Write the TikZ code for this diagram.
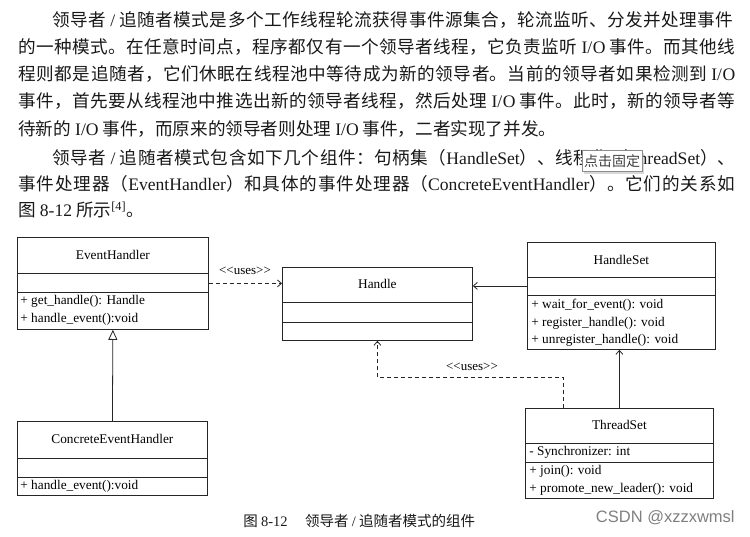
\documentclass[tikz,border=0pt]{standalone}
\usepackage{fontspec}
\setmainfont{Liberation Serif}
\newfontfamily\cjk{Noto Sans CJK SC}
\newfontfamily\wmfont{Liberation Sans}
\usepackage{tikz}
\usetikzlibrary{arrows.meta,shadows}
\XeTeXlinebreaklocale "zh"
\XeTeXlinebreakskip=0pt plus 4pt

\begin{document}
\begin{tikzpicture}[x=1pt, y=-1pt, line width=0.8pt,
    bookline/.style={anchor=west, inner sep=0pt, text width=#1, align=justify,
        font=\cjk\fontsize{17.6}{20}\selectfont, text=black!90,
        execute at begin node={\parfillskip=0pt\tolerance=10000\relax}},
    booklast/.style={anchor=west, inner sep=0pt, font=\cjk\fontsize{17.6}{20}\selectfont, text=black!90},
    umlbox/.style={draw=black!85, rectangle, anchor=north west, inner sep=0pt},
    cname/.style={inner sep=0pt, font=\fontsize{13.3}{15}\selectfont},
    member/.style={anchor=west, inner sep=0pt, font=\fontsize{13.3}{15}\selectfont},
    lbl/.style={inner sep=0pt, font=\fontsize{13}{15}\selectfont},
    uses/.style={draw=black!85, dash pattern=on 4pt off 3pt, -{Straight Barb[length=4pt,width=7pt]}},
    assoc/.style={draw=black!85, -{Straight Barb[length=4pt,width=7pt]}},
    inherit/.style={draw=black!85, -{Triangle[open,length=10pt,width=9pt]}}]

\fill[white] (0,0) rectangle (750,536);
\useasboundingbox (0,0) rectangle (750,536);

\node[bookline=681pt] (l1) at (52,20) {领导者 {\rmfamily /} 追随者模式是多个工作线程轮流获得事件源集合，轮流监听、分发并处理事件};
\node[bookline=717pt] (l2) at (18,47) {的一种模式。在任意时间点，程序都仅有一个领导者线程，它负责监听 {\rmfamily I/O} 事件。而其他线};
\node[bookline=717pt] (l3) at (18,74) {程则都是追随者，它们休眠在线程池中等待成为新的领导者。当前的领导者如果检测到 {\rmfamily I/O}};
\node[bookline=717pt] (l4) at (18,101) {事件，首先要从线程池中推选出新的领导者线程，然后处理 {\rmfamily I/O} 事件。此时，新的领导者等};
\node[booklast] (l5) at (18,129) {待新的 {\rmfamily I/O} 事件，而原来的领导者则处理 {\rmfamily I/O} 事件，二者实现了并发。};
\node[bookline=683pt] (l6) at (52,158) {领导者 {\rmfamily /} 追随者模式包含如下几个组件：句柄集（{\rmfamily HandleSet}）、线程集（{\rmfamily ThreadSet}）、};
\node[bookline=717pt] (l7) at (18,184) {事件处理器（{\rmfamily EventHandler}）和具体的事件处理器（{\rmfamily ConcreteEventHandler}）。它们的关系如};
\node[booklast] (l8) at (18,210) {图 {\rmfamily 8-12} 所示\textsuperscript{\rmfamily [4]}。};

\node[draw=black!45, fill=white, text=black!75, inner sep=2pt,
      minimum width=60pt, minimum height=21pt, font=\cjk\fontsize{14}{16}\selectfont,
      drop shadow={shadow xshift=2pt, shadow yshift=-2pt, opacity=0.3}] (tip) at (612,161) {点击固定};

\node[umlbox, minimum width=191pt, minimum height=92pt] (eh) at (17,237) {};
\node[umlbox, minimum width=190pt, minimum height=73pt] (hd) at (282,267) {};
\node[umlbox, minimum width=188pt, minimum height=107pt] (hs) at (527,242) {};
\node[umlbox, minimum width=190pt, minimum height=74pt] (ceh) at (17,421) {};
\node[umlbox, minimum width=188pt, minimum height=90pt] (ts) at (525,408) {};

\foreach \b/\y in {eh/273, eh/292, hd/302, hd/322, hs/277, hs/295, ceh/458, ceh/477, ts/443, ts/462}
    \draw[black!85] (\b.west |- 0,\y) -- (\b.east |- 0,\y);

\node[cname] (ehn) at (eh.north |- 0,255) {EventHandler};
\node[cname] (hdn) at (hd.north |- 0,284) {Handle};
\node[cname] (hsn) at (hs.north |- 0,260) {HandleSet};
\node[cname] (cehn) at (ceh.north |- 0,439) {ConcreteEventHandler};
\node[cname] (tsn) at (ts.north |- 0,425) {ThreadSet};

\node[member] (eh1) at (20,301) {+ get\_handle(): Handle};
\node[member] (eh2) at (20,319) {+ handle\_event():void};
\node[member] (hs1) at (531,305) {+ wait\_for\_event(): void};
\node[member] (hs2) at (531,323) {+ register\_handle(): void};
\node[member] (hs3) at (531,340) {+ unregister\_handle(): void};
\node[member] (ceh1) at (20,486) {+ handle\_event():void};
\node[member] (ts1) at (529,452) {- Synchronizer: int};
\node[member] (ts2) at (529,471) {+ join(): void};
\node[member] (ts3) at (529,489) {+ promote\_new\_leader(): void};

\draw[uses] (eh.east) -- (eh.east -| hd.west);
\node[lbl] (u1) at (245,271) {<{}<uses>{}>};
\draw[assoc] ([yshift=10pt]hs.west) -- ([yshift=10pt]hs.west -| hd.east);
\draw[assoc] (ts.north) -- (ts.north |- hs.south);
\draw[uses] ([xshift=-56pt]ts.north) |- ([yshift=-37pt]hd.south) -- (hd.south);
\node[lbl] (u2) at (472,367) {<{}<uses>{}>};
\draw[inherit] (ceh.north) -- (eh.south);

\node[anchor=west, inner sep=0pt, font=\cjk\fontsize{14.5}{16}\selectfont, text=black!90] (cap) at (243,521)
    {图 {\rmfamily 8-12}\hspace{1.2em}领导者 {\rmfamily /} 追随者模式的组件};
\node[anchor=east, inner sep=0pt, font=\wmfont\fontsize{16.5}{18}\selectfont, text=black!50] (wm) at (735,518) {CSDN @xzzxwmsl};

\end{tikzpicture}
\end{document}
